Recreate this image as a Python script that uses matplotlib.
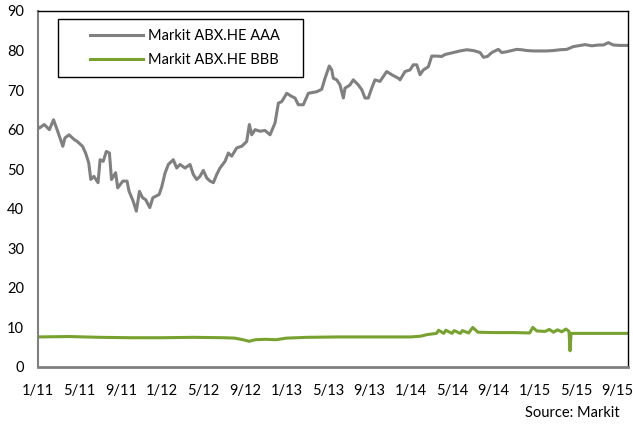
import matplotlib
matplotlib.use("Agg")
import matplotlib.pyplot as plt
from matplotlib.patches import Rectangle

plt.rcParams['font.family'] = ['Lato', 'DejaVu Sans']

# x positions: months since Jan 2011
aaa_month = [0.0, 0.13, 0.6, 1.1, 1.5, 1.9, 2.4, 2.6, 3.0, 3.5, 3.8, 4.3, 4.6, 4.9, 5.1, 5.4, 5.8,
             6.0, 6.3, 6.6, 6.9, 7.1, 7.5, 7.7, 8.2, 8.6, 8.8, 9.2, 9.5, 9.8, 10.1, 10.4, 10.8,
             11.1, 11.7, 11.95, 12.27, 12.59, 13.07, 13.40, 13.72, 14.2, 14.69, 15.0, 15.33,
             15.65, 15.97, 16.3, 16.62, 16.94, 17.27, 17.58, 18.07, 18.39, 18.71, 19.2, 19.68,
             20.16, 20.42, 20.65, 20.97, 21.45, 21.93, 22.42, 22.9, 23.22, 23.55, 24.03, 24.51,
             24.83, 25.15, 25.63, 26.12, 26.93, 27.41, 27.73, 28.14, 28.38, 28.53, 28.86, 29.18,
             29.5, 29.66, 30.14, 30.46, 30.95, 31.28, 31.59, 31.91, 32.24, 32.56, 33.04, 33.69,
             34.17, 34.81, 34.98, 35.46, 35.94, 36.26, 36.59, 36.91, 37.23, 37.71, 38.04, 38.52,
             39.0, 39.32, 40.12, 40.77, 41.42, 42.06, 42.71, 43.03, 43.41, 43.84, 44.47, 44.8,
             45.28, 45.77, 46.25, 46.73, 47.22, 47.86, 48.5, 49.15, 49.79, 50.43, 51.08, 51.72,
             52.37, 52.85, 53.5, 54.14, 54.62, 55.1, 55.59, 56.23, 56.9]
aaa_value = [60.8, 60.4, 61.3, 60.0, 62.5, 59.6, 55.8, 57.9, 58.7, 57.5, 57.0, 55.8, 54.1, 51.6, 47.4, 48.2, 46.6,
             52.4, 52.0, 54.5, 54.1, 47.4, 49.1, 45.3, 47.0, 47.0, 44.4, 41.9, 39.4, 44.4, 42.8, 42.3, 40.3,
             42.8, 43.6, 45.5, 49.0, 51.2, 52.4, 50.3, 51.2, 50.3, 51.2, 48.7, 47.4,
             48.2, 49.7, 47.8, 47.0, 46.6, 48.7, 50.3, 52.0, 54.1, 53.3, 55.4, 55.8,
             57.0, 61.3, 58.7, 60.0, 59.6, 59.8, 58.7, 61.7, 66.7, 67.1, 69.2, 68.4,
             68.0, 66.3, 66.3, 69.2, 69.6, 70.2, 73.0, 76.1, 75.1, 73.0, 72.6, 71.3,
             68.0, 70.5, 71.3, 72.6, 71.3, 70.1, 68.0, 68.0, 70.5, 72.6, 72.2, 74.7,
             73.9, 73.0, 72.6, 74.7, 75.1, 76.4, 76.4, 73.9, 75.1, 75.9, 78.6, 78.6,
             78.5, 79.0, 79.5, 79.9, 80.2, 80.0, 79.5, 78.3, 78.5, 79.5, 80.3, 79.5,
             79.7, 80.0, 80.3, 80.2, 80.0, 79.9, 79.9, 79.9, 80.0, 80.2, 80.3, 81.0,
             81.3, 81.5, 81.2, 81.4, 81.4, 82.0, 81.4, 81.3, 81.3]

bbb_month = [0.0, 3.0, 6.0, 9.0, 12.0, 15.0, 18.0, 19.0, 19.8, 20.4, 21.0, 22.0, 23.0, 24.0, 26.0,
             29.0, 33.0, 36.0, 37.0, 37.6, 38.5, 38.7, 39.2, 39.4, 40.0, 40.2, 40.8, 41.0, 41.6,
             42.0, 42.5, 44.0, 46.0, 47.5, 47.8, 48.2, 49.0, 49.4, 49.8, 50.2, 50.6, 51.0, 51.3,
             51.4, 51.5, 52.0, 54.0, 56.9]
bbb_value = [7.6, 7.7, 7.5, 7.4, 7.4, 7.5, 7.4, 7.3, 6.9, 6.5, 6.9, 7.0, 6.9, 7.3, 7.5,
             7.6, 7.6, 7.6, 7.8, 8.2, 8.5, 9.3, 8.5, 9.3, 8.5, 9.2, 8.5, 9.2, 8.6,
             10.0, 8.8, 8.7, 8.7, 8.6, 10.0, 9.1, 9.0, 9.5, 8.8, 9.4, 8.9, 9.6, 9.0,
             4.1, 8.5, 8.5, 8.5, 8.5]

tick_months = [0, 4, 8, 12, 16, 20, 24, 28, 32, 36, 40, 44, 48, 52, 56]
tick_labels = ['1/11', '5/11', '9/11', '1/12', '5/12', '9/12', '1/13', '5/13', '9/13',
               '1/14', '5/14', '9/14', '1/15', '5/15', '9/15']
y_ticks = [0, 10, 20, 30, 40, 50, 60, 70, 80, 90]

fig = plt.figure(figsize=(6.33, 4.28), dpi=100)
ax = fig.add_axes([38/633, 1-367/428, 590/633, 356/428])

ax.plot(aaa_month, aaa_value, color='#808080', lw=2.2, label='Markit ABX.HE AAA', solid_joinstyle='round')
ax.plot(bbb_month, bbb_value, color='#77A22F', lw=2.2, label='Markit ABX.HE BBB', solid_joinstyle='round')

ax.set_xlim(0, 57)
ax.set_ylim(0, 90)
ax.set_xticks(tick_months)
ax.set_xticklabels(tick_labels)
ax.set_yticks(y_ticks)
ax.tick_params(axis='both', length=0, labelsize=10.5, colors='black')
ax.tick_params(axis='x', pad=12)
ax.tick_params(axis='y', pad=10)

for s in ['top', 'right']:
    ax.spines[s].set_color('black')
    ax.spines[s].set_linewidth(1.0)
ax.spines['left'].set_color('#808080')
ax.spines['left'].set_linewidth(1.5)
ax.spines['bottom'].set_color('#808080')
ax.spines['bottom'].set_linewidth(2.0)

# legend frame box
frame = Rectangle((20/590, (367-77)/356), 245/590, 58/356, transform=ax.transAxes,
                  facecolor='white', edgecolor='black', lw=1.0, zorder=4)
ax.add_patch(frame)

leg = ax.legend(loc='upper left', bbox_to_anchor=((90-38)/590, (367-29)/356),
                fontsize=10.5, frameon=False, handlelength=3.6, handletextpad=0.4,
                labelspacing=0.72, borderpad=0, borderaxespad=0)
leg.set_zorder(5)

fig.text(620/633, 1-413/428, 'Source: Markit', ha='right', va='center', fontsize=10.5)

fig.savefig('out.png', dpi=100)
